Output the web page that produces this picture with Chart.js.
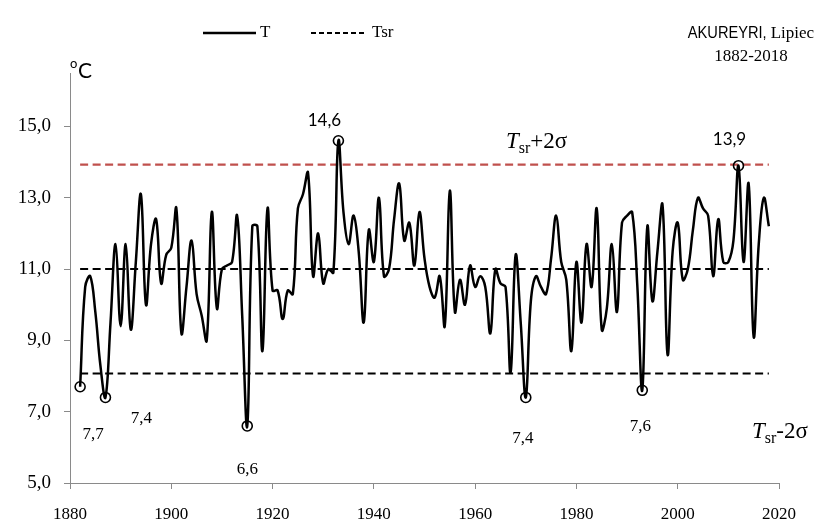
<!DOCTYPE html>
<html>
<head>
<meta charset="utf-8">
<script src="https://cdn.jsdelivr.net/npm/chart.js@4.4.1/dist/chart.umd.min.js"></script>
<style>
  html, body { margin: 0; padding: 0; background: #ffffff; }
  #wrap { width: 817px; height: 528px; position: relative; }
</style>
</head>
<body>
<div id="wrap"><canvas id="chart" width="817" height="528"></canvas></div>
<script>
// Mean July air temperature at Akureyri, 1882-2018 (°C)
const firstYear = 1882;
const julyTemp = [
  7.7, 10.5, 10.8, 9.8, 8.3, 7.4, 9.5, 11.7, 9.4, 11.7,      // 1882-1891
  9.3, 11.2, 13.1, 10.0, 11.7, 12.4, 10.6, 11.4, 11.6, 12.7, // 1892-1901
  9.2, 10.5, 11.8, 10.3, 9.7, 9.0, 12.6, 9.9, 11.0, 11.1,    // 1902-1911
  11.2, 12.5, 9.7, 6.6, 12.2, 12.2, 8.7, 12.7, 10.4, 10.4,   // 1912-1921
  9.6, 10.4, 10.3, 12.7, 13.1, 13.7, 10.8, 12.0, 10.6, 11.0, // 1922-1931
  10.9, 14.6, 12.6, 11.7, 12.5, 11.5, 9.5, 12.1, 11.2, 13.0, // 1932-1941
  10.8, 11.0, 12.4, 13.4, 11.8, 12.3, 11.1, 12.6, 11.3, 10.5,// 1942-1951
  10.2, 10.8, 9.4, 13.2, 9.8, 10.7, 10.0, 11.1, 10.5, 10.8,  // 1952-1961
  10.5, 9.2, 11.0, 10.6, 10.5, 8.1, 11.4, 9.5, 7.4, 10.1,    // 1962-1971
  10.8, 10.5, 10.3, 11.3, 12.5, 11.2, 10.7, 8.7, 11.2, 9.5,  // 1972-1981
  11.7, 10.5, 12.7, 9.3, 9.9, 11.7, 9.8, 12.3, 12.5, 12.6,   // 1982-1991
  10.6, 7.6, 12.2, 10.1, 11.5, 12.8, 8.6, 11.5, 12.3, 10.7,  // 1992-2001
  11.0, 12.1, 13.0, 12.7, 12.5, 10.8, 12.4, 11.2, 11.2, 11.8,// 2002-2011
  13.9, 11.2, 13.4, 9.1, 11.7, 13.0, 12.2                    // 2012-2018
];
const years = julyTemp.map((_, i) => firstYear + i);
const lastYear = years[years.length - 1];

// long-term mean and standard deviation
const meanTemp = 11.0;
const sigma = 1.465;

const yTicks = [5, 7, 9, 11, 13, 15];
const xTicks = [1880, 1900, 1920, 1940, 1960, 1980, 2000, 2020];

// extreme years that get a circle and a value label
const markedYears = [1882, 1887, 1915, 1933, 1970, 1993, 2012];

const SERIF = '"Liberation Serif", "Times New Roman", serif';
const SANS = 'Lato, "Open Sans", sans-serif';
const fmt = v => Number(v).toFixed(1).replace('.', ',');

// where each value label sits relative to its point, and its typeface
const labelPlacement = {
  1882: { dx: 13, dy: 48, font: SERIF },
  1887: { dx: 36, dy: 21, font: SERIF },
  1915: { dx: 0, dy: 44, font: SERIF },
  1933: { dx: -14, dy: -20, font: SANS },
  1970: { dx: -3, dy: 41, font: SERIF },
  1993: { dx: -2, dy: 36, font: SERIF },
  2012: { dx: -9, dy: -26, font: SANS }
};

const tempPoints = years.map((y, i) => ({ x: y, y: julyTemp[i] }));
const flatLine = v => [{ x: firstYear, y: v }, { x: lastYear, y: v }];

const AXIS_GREY = '#8a8a8a';

const overlay = {
  id: 'overlay',
  afterDraw(chart) {
    const ctx = chart.ctx;
    const xs = chart.scales.x, ys = chart.scales.y;
    ctx.save();
    ctx.fillStyle = '#000';
    ctx.strokeStyle = '#000';

    // legend
    ctx.lineWidth = 2.5;
    ctx.setLineDash([]);
    ctx.beginPath(); ctx.moveTo(203, 33); ctx.lineTo(256, 33); ctx.stroke();
    ctx.lineWidth = 2;
    ctx.setLineDash([5, 3]);
    ctx.beginPath(); ctx.moveTo(311, 33); ctx.lineTo(366, 33); ctx.stroke();
    ctx.setLineDash([]);
    ctx.font = '17px ' + SERIF;
    ctx.textBaseline = 'middle';
    ctx.textAlign = 'left';
    ctx.fillText('T', 260, 33);
    ctx.fillText('Tsr', 372, 33);

    // station title: condensed sans name, serif month
    ctx.textBaseline = 'alphabetic';
    const part1 = 'AKUREYRI, ', part2 = 'Lipiec';
    const squeeze = 0.86;
    ctx.font = '17px "Liberation Sans", sans-serif';
    const w1 = ctx.measureText(part1).width * squeeze;
    ctx.font = '17px ' + SERIF;
    const w2 = ctx.measureText(part2).width;
    const tx = 751 - (w1 + w2) / 2;
    ctx.save();
    ctx.translate(tx, 38);
    ctx.scale(squeeze, 1);
    ctx.font = '17px "Liberation Sans", sans-serif';
    ctx.fillText(part1, 0, 0);
    ctx.restore();
    ctx.font = '17px ' + SERIF;
    ctx.fillText(part2, tx + w1, 38);
    ctx.textAlign = 'center';
    ctx.fillText('1882-2018', 751, 61);

    // unit
    ctx.textAlign = 'left';
    ctx.font = '13px ' + SANS;
    ctx.fillText('o', 70, 68);
    ctx.font = '21px ' + SANS;
    ctx.fillText('C', 78, 78);

    // sigma band labels
    const drawSigma = (x, yb, sign) => {
      ctx.textAlign = 'left';
      ctx.font = 'italic 23px ' + SERIF;
      ctx.fillText('T', x, yb);
      let cx = x + ctx.measureText('T').width;
      ctx.font = '16px ' + SERIF;
      ctx.fillText('sr', cx, yb + 5);
      cx += ctx.measureText('sr').width;
      ctx.font = '23px ' + SERIF;
      ctx.fillText(sign + '2σ', cx, yb);
    };
    drawSigma(506, 148, '+');
    drawSigma(752, 438, '-');

    // value labels at the extremes
    ctx.textAlign = 'center';
    ctx.textBaseline = 'middle';
    markedYears.forEach(yr => {
      const v = julyTemp[yr - firstYear];
      const p = labelPlacement[yr];
      ctx.font = '17px ' + p.font;
      ctx.fillText(fmt(v), xs.getPixelForValue(yr) + p.dx, ys.getPixelForValue(v) + p.dy);
    });
    ctx.restore();
  }
};

new Chart(document.getElementById('chart'), {
  type: 'line',
  data: {
    datasets: [
      {
        label: 'T',
        data: tempPoints,
        borderColor: '#000',
        borderWidth: 2.5,
        tension: 0.4,
        fill: false,
        pointRadius: c => markedYears.includes(years[c.dataIndex]) ? 5 : 0,
        pointHoverRadius: c => markedYears.includes(years[c.dataIndex]) ? 5 : 0,
        pointBorderColor: '#000',
        pointBorderWidth: 1.6,
        pointBackgroundColor: 'rgba(0,0,0,0)',
        clip: false
      },
      {
        label: 'Tsr',
        data: flatLine(meanTemp),
        borderColor: '#000',
        borderWidth: 2,
        borderDash: [8, 4.5],
        pointRadius: 0,
        tension: 0
      },
      {
        label: 'Tsr+2σ',
        data: flatLine(meanTemp + 2 * sigma),
        borderColor: '#c0504d',
        borderWidth: 2.2,
        borderDash: [8, 4.5],
        pointRadius: 0,
        tension: 0
      },
      {
        label: 'Tsr-2σ',
        data: flatLine(meanTemp - 2 * sigma),
        borderColor: '#000',
        borderWidth: 2,
        borderDash: [8, 4.5],
        pointRadius: 0,
        tension: 0
      }
    ]
  },
  options: {
    responsive: false,
    animation: false,
    devicePixelRatio: 1,
    layout: { padding: { top: 73, right: 38, bottom: 0, left: 0 } },
    plugins: { legend: { display: false }, tooltip: { enabled: false } },
    scales: {
      x: {
        type: 'linear',
        min: 1880,
        max: 2020,
        afterBuildTicks: s => { s.ticks = xTicks.map(v => ({ value: v })); },
        afterFit: s => { s.height = 45; },
        grid: { drawOnChartArea: false, drawTicks: true, tickLength: 6, color: AXIS_GREY, lineWidth: 1 },
        border: { color: AXIS_GREY, width: 1 },
        ticks: {
          callback: v => String(v),
          font: { family: SERIF, size: 17 },
          color: '#000',
          padding: 15,
          maxRotation: 0,
          autoSkip: false
        }
      },
      y: {
        min: 5,
        max: 16.5,
        afterBuildTicks: s => { s.ticks = yTicks.map(v => ({ value: v })); },
        afterFit: s => { s.width = 70; },
        grid: { drawOnChartArea: false, drawTicks: true, tickLength: 6, color: AXIS_GREY, lineWidth: 1 },
        border: { color: AXIS_GREY, width: 1 },
        ticks: {
          callback: v => fmt(v),
          font: { family: SERIF, size: 19 },
          color: '#000',
          padding: 13
        }
      }
    }
  },
  plugins: [overlay]
});
</script>
</body>
</html>
